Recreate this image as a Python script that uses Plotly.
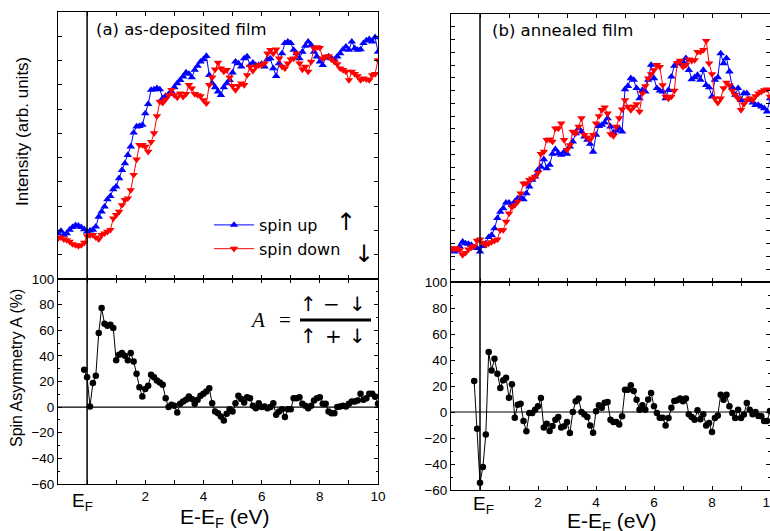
import plotly.graph_objects as go

# ---------------- data ----------------
E_INT = [-1.0, -0.9, -0.8, -0.7, -0.6, -0.5, -0.4, -0.3, -0.2, -0.1,
         0.0, 0.1, 0.2, 0.3, 0.4, 0.5, 0.6, 0.7, 0.8, 0.9,
         1.0, 1.1, 1.2, 1.3, 1.4, 1.5, 1.6, 1.7, 1.8, 1.9,
         2.0, 2.1, 2.2, 2.3, 2.4, 2.5, 2.6, 2.7, 2.8, 2.9,
         3.0, 3.1, 3.2, 3.3, 3.4, 3.5, 3.6, 3.7, 3.8, 3.9,
         4.0, 4.1, 4.2, 4.3, 4.4, 4.5, 4.6, 4.7, 4.8, 4.9,
         5.0, 5.1, 5.2, 5.3, 5.4, 5.5, 5.6, 5.7, 5.8, 5.9,
         6.0, 6.1, 6.2, 6.3, 6.4, 6.5, 6.6, 6.7, 6.8, 6.9,
         7.0, 7.1, 7.2, 7.3, 7.4, 7.5, 7.6, 7.7, 7.8, 7.9,
         8.0, 8.1, 8.2, 8.3, 8.4, 8.5, 8.6, 8.7, 8.8, 8.9,
         9.0, 9.1, 9.2, 9.3, 9.4, 9.5, 9.6, 9.7, 9.8, 9.9,
         10.0]

# (a) as-deposited film, intensities (arb. units)
UP_A = [17.1, 18.0, 16.5, 17.1, 18.4, 19.4, 20.1, 19.9, 19.4, 18.6,
        17.7, 18.1, 18.4, 19.6, 23.3, 25.2, 27.1, 29.8, 31.0, 33.6,
        34.6, 37.7, 40.8, 43.3, 46.4, 49.6, 54.8, 57.1, 57.3, 57.7,
        62.0, 65.5, 70.8, 71.0, 71.4, 71.0, 67.7, 68.5, 69.2, 70.2,
        71.8, 73.3, 74.5, 75.8, 77.3, 76.8, 75.5, 78.3, 79.8, 81.4,
        82.3, 83.5, 76.4, 73.3, 71.8, 70.2, 68.9, 71.8, 73.3, 74.5,
        77.3, 81.4, 80.8, 79.5, 82.6, 83.3, 80.1, 81.0, 80.1, 80.1,
        80.5, 79.5, 82.3, 82.6, 78.9, 76.0, 80.8, 84.5, 88.3, 88.9,
        88.3, 85.8, 84.5, 82.6, 85.1, 87.3, 88.9, 87.6, 85.1, 83.3,
        81.4, 80.1, 82.8, 83.3, 82.6, 82.2, 83.3, 84.5, 86.0, 87.0,
        85.8, 88.9, 86.4, 85.8, 86.0, 88.3, 89.3, 89.8, 88.9, 90.5,
        85.1]
DOWN_A = [15.2, 15.6, 14.9, 14.6, 14.0, 13.1, 12.7, 12.4, 12.7, 13.6,
          16.1, 16.4, 16.5, 15.6, 14.9, 16.5, 17.1, 17.7, 18.4, 22.7,
          24.0, 25.2, 27.7, 29.6, 30.2, 33.3, 39.0, 44.8, 50.2, 50.2,
          49.6, 47.7, 51.4, 54.6, 61.0, 66.4, 66.0, 67.3, 68.9, 70.8,
          68.9, 68.0, 69.5, 68.3, 69.3, 72.7, 71.4, 69.3, 68.9, 68.5,
          67.0, 65.8, 72.7, 75.5, 78.5, 81.0, 78.9, 77.7, 78.3, 75.5,
          72.3, 70.8, 72.3, 73.3, 72.7, 76.4, 79.5, 78.0, 79.5, 80.1,
          80.1, 80.8, 84.5, 85.8, 84.5, 86.0, 82.6, 79.5, 78.9, 80.8,
          82.3, 82.6, 84.5, 80.8, 78.5, 79.5, 77.7, 81.4, 86.4, 86.8,
          86.6, 82.6, 83.3, 83.5, 82.3, 81.4, 80.5, 78.9, 78.3, 77.7,
          74.5, 77.7, 76.8, 76.0, 74.5, 75.1, 74.8, 74.5, 76.4, 76.8,
          82.0]

# (b) annealed film, intensities (arb. units)
UP_B = [12.2, 11.3, 11.7, 13.2, 15.0, 14.4, 14.2, 13.8, 12.9, 12.6,
        11.3, 13.4, 14.4, 16.7, 17.5, 20.0, 23.8, 26.2, 27.5, 29.6,
        29.6, 28.7, 30.0, 31.2, 31.8, 30.8, 33.1, 35.6, 38.1, 39.3,
        41.8, 43.0, 45.8, 42.4, 43.7, 47.8, 49.5, 48.0, 47.4, 48.6,
        47.8, 50.5, 52.4, 55.5, 57.3, 56.1, 54.2, 53.0, 51.5, 48.6,
        54.9, 58.2, 58.6, 59.5, 61.1, 58.0, 55.7, 56.5, 57.3, 56.1,
        71.9, 73.1, 76.0, 75.4, 72.3, 68.5, 71.6, 71.0, 75.4, 81.0,
        76.0, 72.3, 71.4, 71.0, 68.5, 71.6, 76.6, 80.6, 81.6, 81.8,
        82.2, 83.5, 79.1, 75.6, 76.4, 77.2, 75.4, 79.1, 73.5, 72.6,
        69.2, 75.4, 76.4, 85.3, 81.6, 83.5, 78.5, 72.6, 69.8, 72.3,
        67.9, 70.4, 70.4, 67.9, 66.9, 66.0, 66.0, 65.4, 64.8, 63.6,
        68.5]
DOWN_B = [12.6, 12.2, 12.6, 11.9, 10.1, 10.9, 12.2, 12.9, 13.4, 15.4,
          15.9, 14.7, 13.8, 14.4, 14.9, 15.4, 15.9, 19.4, 19.4, 22.5,
          25.6, 27.9, 28.7, 30.0, 33.1, 36.8, 36.8, 38.1, 38.7, 39.3,
          40.8, 47.8, 48.6, 53.0, 53.2, 52.4, 57.3, 57.3, 59.2, 53.0,
          49.3, 51.1, 56.1, 55.5, 58.0, 61.1, 54.9, 54.0, 53.2, 54.9,
          59.2, 61.9, 64.2, 65.2, 62.9, 55.2, 54.5, 58.0, 61.1, 64.4,
          67.9, 65.4, 64.2, 65.4, 66.4, 63.6, 70.4, 73.1, 76.0, 77.6,
          79.1, 81.0, 80.3, 73.5, 69.2, 68.5, 69.2, 71.4, 81.8, 82.6,
          80.3, 81.0, 83.1, 82.6, 82.8, 85.9, 85.9, 86.6, 90.0, 81.6,
          77.6, 68.5, 66.9, 68.5, 72.3, 74.4, 73.5, 71.4, 69.8, 68.5,
          64.2, 66.4, 67.9, 68.5, 67.9, 69.4, 70.4, 71.0, 71.6, 71.9,
          69.2]

# spin asymmetry A (%)
E_ASYM_A = E_INT[9:]    # from -0.1 eV
ASYM_A = [29.2,
          23.4, 0.5, 18.8, 24.5, 57.8, 77.3, 65.0, 63.5, 64.3, 61.7,
          36.5, 40.9, 42.2, 40.1, 36.5, 42.2, 35.7, 26.0, 15.6, 8.3,
          14.1, 16.7, 25.3, 23.4, 20.8, 19.3, 17.4, 7.0, 0.0, 1.8,
          1.0, -4.2, 2.6, 4.4, 5.7, 8.3, 6.3, 2.6, 5.7, 8.9,
          10.4, 12.2, 14.8, 3.1, -3.4, -4.7, -7.3, -10.4, -5.2, -1.6,
          -3.4, 3.1, 8.9, 6.3, 3.6, 7.8, 7.0, 1.0, -0.8, 3.1,
          0.0, 0.5, -0.8, 0.0, 3.1, -6.0, -3.4, -1.6, -7.8, -1.6,
          -1.6, 7.0, 7.0, 7.8, 2.6, 1.0, -0.8, 1.0, 5.2, 7.0,
          7.8, 2.6, 2.6, -3.4, -4.7, -4.7, 0.0, 0.5, 1.0, 0.5,
          2.6, 4.4, 4.4, 5.2, 10.4, 5.7, 7.0, 10.4, 10.4, 8.0,
          2.6]
E_ASYM_B = E_INT[8:]    # from -0.2 eV
ASYM_B = [23.8, -12.8,
          -54.4, -42.3, -17.4, 46.2, 32.0, 41.0, 29.5, 18.5, 24.4, 26.4,
          11.0, 21.3, -4.4, 5.6, 6.4, -6.9, -14.9, -0.8, -0.8, 1.8,
          4.4, 10.8, -12.0, -9.0, -14.6, -10.8, -5.9, -3.8, -12.0, -11.0,
          -7.7, -16.2, 0.0, 8.2, 10.3, 0.0, -2.0, -3.8, -10.3, -15.9,
          0.5, 5.1, 3.3, 7.2, 7.7, -5.9, -7.7, -7.7, -9.7, -3.3,
          17.2, 17.2, 20.5, 16.2, 9.5, 1.8, 5.1, 1.8, 9.7, 14.6,
          4.4, -0.8, -4.4, -4.4, -10.3, -4.6, 3.3, 8.5, 9.0, 10.3,
          8.2, 10.3, -1.8, -3.8, -5.9, 1.3, -5.6, -1.8, -10.3, -8.5,
          -15.4, -4.6, -2.6, 13.3, 9.5, 13.3, 4.4, -0.8, -4.6, 1.8,
          -4.6, -2.0, 6.9, 1.8, -1.8, 0.0, -3.1, -3.3, -6.9, -6.9,
          0.8]

X_TICKS = [0, 1, 2, 3, 4, 5, 6, 7, 8, 9, 10]
X_TICKTEXT = ["", "", "2", "", "4", "", "6", "", "8", "", "10"]
A_TICKS = [-60, -40, -20, 0, 20, 40, 60, 80, 100]

# ---------------- figure ----------------
W, H = 770, 531
FONT = "Liberation Sans, Arial, sans-serif"
WIDE = "DejaVu Sans, Verdana, sans-serif"
SERIF = "Liberation Serif, Times New Roman, serif"


def px(x):
    return x / W


def py(y):
    return 1 - y / H


fig = go.Figure()

BLUE, RED = "#0000ff", "#ff0000"

def up_trace(x, y, xa, ya, show):
    return go.Scatter(x=x, y=y, xaxis=xa, yaxis=ya, mode="lines+markers",
                      name="spin up", showlegend=show,
                      line=dict(color=BLUE, width=1),
                      marker=dict(symbol="triangle-up", size=7.5, color=BLUE))

def down_trace(x, y, xa, ya, show):
    return go.Scatter(x=x, y=y, xaxis=xa, yaxis=ya, mode="lines+markers",
                      name="spin down", showlegend=show,
                      line=dict(color=RED, width=1),
                      marker=dict(symbol="triangle-down", size=7.5, color=RED))

def asym_trace(x, y, xa, ya):
    return go.Scatter(x=x, y=y, xaxis=xa, yaxis=ya, mode="lines+markers",
                      showlegend=False,
                      line=dict(color="black", width=1),
                      marker=dict(symbol="circle", size=6.5, color="black"))

fig.add_trace(up_trace(E_INT, UP_A, "x", "y", True))
fig.add_trace(down_trace(E_INT, DOWN_A, "x", "y", True))
fig.add_trace(asym_trace(E_ASYM_A, ASYM_A, "x2", "y2"))
fig.add_trace(up_trace(E_INT, UP_B, "x3", "y3", False))
fig.add_trace(down_trace(E_INT, DOWN_B, "x3", "y3", False))
fig.add_trace(asym_trace(E_ASYM_B, ASYM_B, "x4", "y4"))

common = dict(showline=True, linecolor="black", linewidth=1, mirror="allticks",
              ticks="inside", ticklen=4, tickcolor="black", tickwidth=1,
              showgrid=False, zeroline=False, ticklabeloverflow="allow",
              automargin=False,
              tickfont=dict(family=FONT, size=13.5, color="black"))

dom_xa = [px(58), px(378)]
dom_xb = [px(451), 1.0]

fig.update_layout(
    xaxis=dict(common, domain=dom_xa, range=[-1, 10], anchor="y",
               tickvals=X_TICKS, showticklabels=False),
    yaxis=dict(common, domain=[py(279), py(12)], range=[0, 100], anchor="x",
               tick0=0, dtick=100 / 11, showticklabels=False),
    xaxis2=dict(common, domain=dom_xa, range=[-1, 10], anchor="y2",
                tickvals=X_TICKS, ticktext=X_TICKTEXT),
    yaxis2=dict(common, domain=[py(484), py(279)], range=[-60, 100], anchor="x2",
                tickvals=A_TICKS,
                minor=dict(dtick=10, tick0=0, ticks="inside", ticklen=2,
                           tickcolor="black")),
    xaxis3=dict(common, domain=dom_xb, range=[-1, 10], anchor="y3",
                tickvals=X_TICKS, showticklabels=False),
    yaxis3=dict(common, domain=[py(282), py(14)], range=[0, 100], anchor="x3",
                tick0=0, dtick=100 / 21, showticklabels=False),
    xaxis4=dict(common, domain=dom_xb, range=[-1, 10], anchor="y4",
                tickvals=X_TICKS, ticktext=X_TICKTEXT),
    yaxis4=dict(common, domain=[py(490), py(282)], range=[-60, 100], anchor="x4",
                tickvals=A_TICKS,
                minor=dict(dtick=10, tick0=0, ticks="inside", ticklen=2,
                           tickcolor="black")),
)

shapes = []
for xa, ya in (("x", "y"), ("x2", "y2"), ("x3", "y3"), ("x4", "y4")):
    shapes.append(dict(type="line", xref=xa, yref=ya + " domain", x0=0, x1=0,
                       y0=0, y1=1, line=dict(color="black", width=1.5)))
for xa, ya in (("x2", "y2"), ("x4", "y4")):
    shapes.append(dict(type="line", xref=xa + " domain", yref=ya, x0=0, x1=1,
                       y0=0, y1=0, line=dict(color="black", width=1.2)))
# fraction bar of formula
shapes.append(dict(type="line", xref="paper", yref="paper",
                   x0=px(300), x1=px(371), y0=py(320), y1=py(320),
                   line=dict(color="black", width=3)))
fig.update_layout(shapes=shapes)

ann = []
def text(t, x, y, size, family=FONT, angle=0, xanchor="center", yanchor="middle"):
    ann.append(dict(text=t, x=px(x), y=py(y), xref="paper", yref="paper",
                    showarrow=False, textangle=angle, xanchor=xanchor,
                    yanchor=yanchor, font=dict(family=family, size=size, color="black")))

text("(a) as-deposited film", 94, 29, 16.5, family=WIDE, xanchor="left")
text("(b) annealed film", 490, 31, 16.5, family=WIDE, xanchor="left")
text("Intensity (arb. units)", 22, 132, 17, angle=-90)
text("Spin Asymmetry A (%)", 16, 368, 16, angle=-90)
text("E<sub>F</sub>", 82, 502, 19)
text("E-E<sub>F</sub> (eV)", 225, 518, 21)
text("E<sub>F</sub>", 483, 505, 19)
text("E-E<sub>F</sub> (eV)", 612, 522, 21)
text("↑", 346, 222, 24, family="DejaVu Sans")
text("↓", 364, 254, 24, family="DejaVu Sans")
# formula
text("<i>A</i>", 257, 320, 21, family=SERIF)
text("=", 285, 320, 21, family=SERIF)
text("↑", 308, 304, 20, family="DejaVu Sans")
text("−", 331, 304, 20, family="DejaVu Sans")
text("↓", 357, 304, 20, family="DejaVu Sans")
text("↑", 308, 336, 20, family="DejaVu Sans")
text("+", 333, 336, 20, family="DejaVu Sans")
text("↓", 357, 336, 20, family="DejaVu Sans")
fig.update_layout(annotations=ann)

fig.update_layout(
    width=W, height=H, margin=dict(l=0, r=0, t=0, b=0, pad=0),
    autosize=False,
    paper_bgcolor="white", plot_bgcolor="white",
    legend=dict(x=px(209), y=py(208), xanchor="left", yanchor="top",
                bgcolor="rgba(0,0,0,0)", font=dict(family=WIDE, size=16, color="black"),
                tracegroupgap=0, itemwidth=40),
)

fig.write_html("out.html", config={"displayModeBar": False},
               post_script="document.body.style.margin='0px';"
                           "document.body.style.overflow='hidden';"
                           "document.documentElement.style.overflow='hidden';")
